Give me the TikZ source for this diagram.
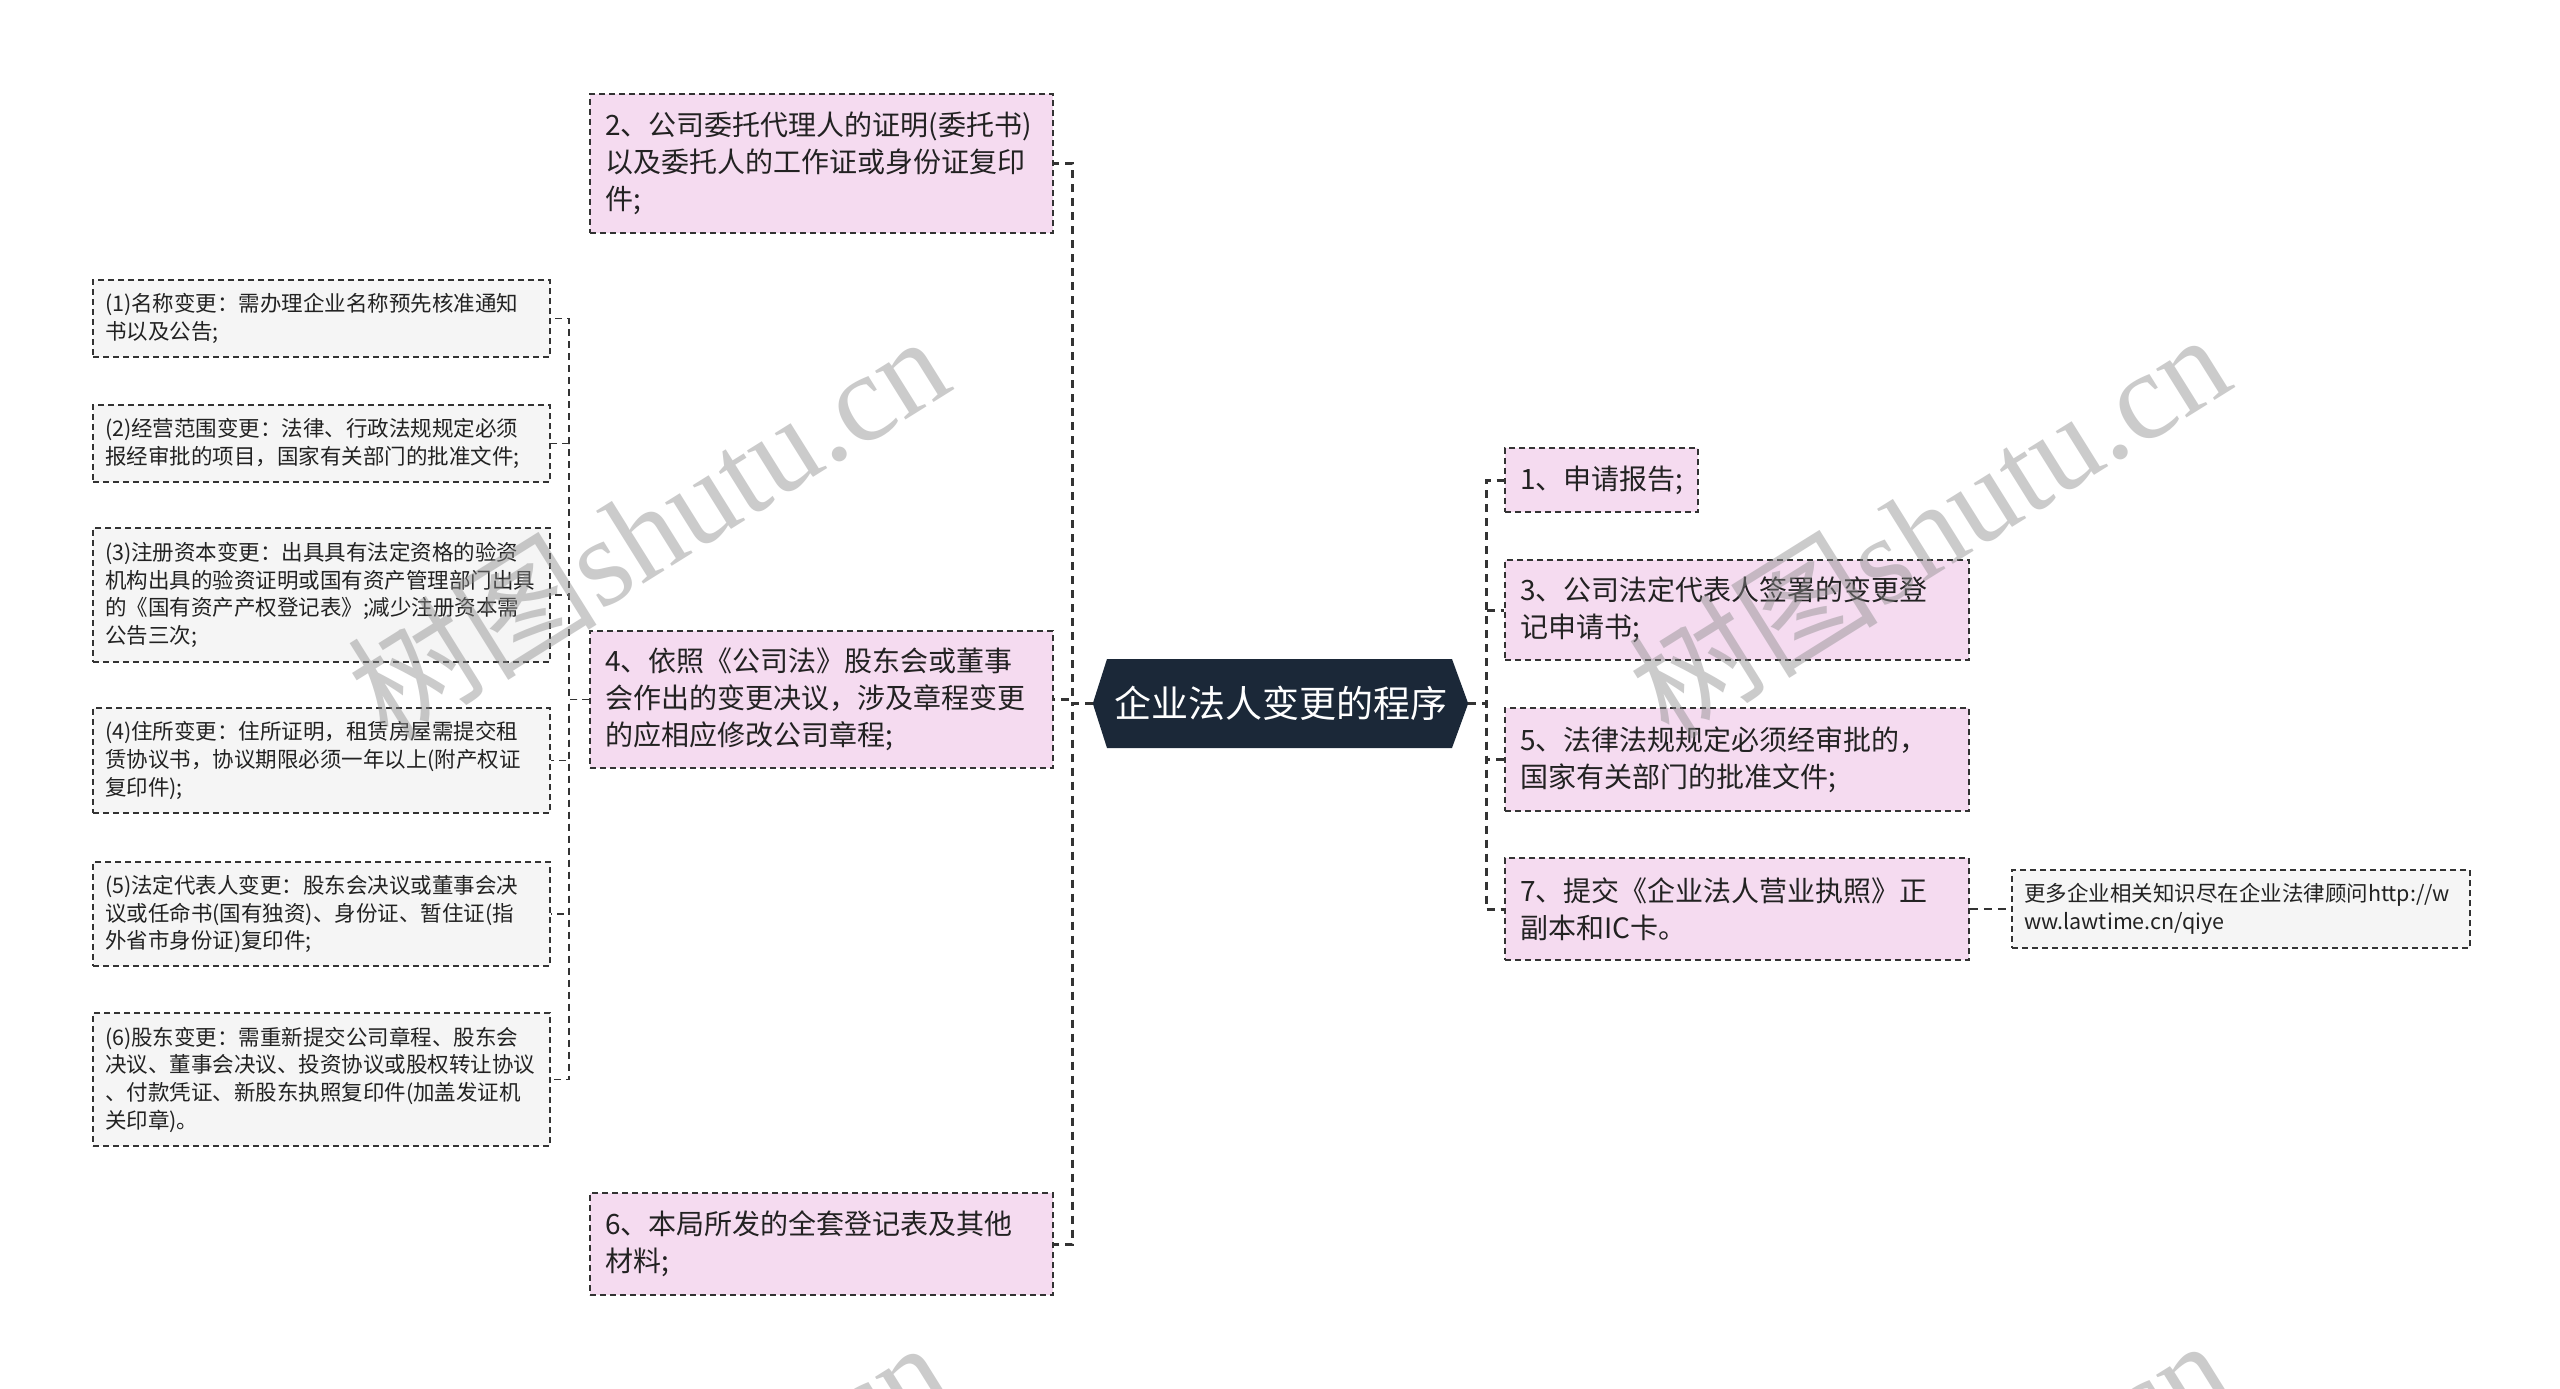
\documentclass[tikz,border=0pt]{standalone}
\usepackage{fontspec}
\setmainfont{Noto Sans CJK SC}
\newfontfamily\wmcjk{Noto Sans CJK SC}
\newfontfamily\wmserif{Liberation Serif}
\usetikzlibrary{calc,backgrounds}
\definecolor{pinkfill}{RGB}{245,219,240}
\definecolor{grayfill}{RGB}{245,245,245}
\definecolor{navy}{RGB}{27,40,56}
\definecolor{bordc}{RGB}{51,51,51}
\definecolor{txt}{RGB}{34,34,34}
\definecolor{wmgray}{RGB}{140,140,140}
\begin{document}
\begin{tikzpicture}[x=1pt,y=-1pt,
  pinkbox/.style={draw=bordc, line width=1.6pt, dash pattern=on 6pt off 4pt, fill=pinkfill, inner xsep=15pt, inner ysep=0pt, align=left, font=\fontsize{28}{36.7}\selectfont, text=txt},
  graybox/.style={draw=bordc, line width=1.4pt, dash pattern=on 6pt off 4pt, fill=grayfill, inner xsep=12pt, inner ysep=0pt, align=left, font=\fontsize{21.5}{27.7}\selectfont, text=txt},
  mainline/.style={draw=bordc, line width=3pt, dash pattern=on 8pt off 6pt},
  subline/.style={draw=bordc, line width=1.5pt, dash pattern=on 7pt off 5pt},
  linkline/.style={draw=bordc, line width=2.5pt, dash pattern=on 8pt off 6pt},
  wm/.style={text=wmgray, opacity=0.45, rotate=32, inner sep=0pt, font=\fontsize{125}{130}\selectfont}
]
\useasboundingbox (0,0) rectangle (2560,1389);
\begin{scope}[on background layer]
\fill[white] (0,0) rectangle (2560,1389);
\end{scope}

% central topic
\node[text=white, font=\fontsize{37}{44}\selectfont, minimum width=375pt, minimum height=89pt, inner sep=0pt] (c) at (1280.5,703.5) {企业法人变更的程序};
\begin{scope}[on background layer]
\fill[navy] (c.west) -- ($(c.center)+(-173.5,-44.5)$) -- ($(c.center)+(171.5,-44.5)$) -- (c.east) -- ($(c.center)+(171.5,44.5)$) -- ($(c.center)+(-173.5,44.5)$) -- cycle;
\end{scope}

% left main branches
\node[pinkbox, text width=433pt, minimum height=139pt] (n2) at (821.5,163.5) {2、公司委托代理人的证明(委托书)\\以及委托人的工作证或身份证复印\\件;};
\node[pinkbox, text width=433pt, minimum height=137pt] (n4) at (821.5,699.5) {4、依照《公司法》股东会或董事\\会作出的变更决议，涉及章程变更\\的应相应修改公司章程;};
\node[pinkbox, text width=433pt, minimum height=102pt] (n6) at (821.5,1244) {6、本局所发的全套登记表及其他\\材料;};

% sub branches of 4
\node[graybox, text width=433pt, minimum height=77pt] (s1) at (321.5,318.5) {(1)名称变更：需办理企业名称预先核准通知\\书以及公告;};
\node[graybox, text width=433pt, minimum height=77pt] (s2) at (321.5,443.5) {(2)经营范围变更：法律、行政法规规定必须\\报经审批的项目，国家有关部门的批准文件;};
\node[graybox, text width=433pt, minimum height=134pt] (s3) at (321.5,595) {(3)注册资本变更：出具具有法定资格的验资\\机构出具的验资证明或国有资产管理部门出具\\的《国有资产产权登记表》;减少注册资本需\\公告三次;};
\node[graybox, text width=433pt, minimum height=105pt] (s4) at (321.5,760.5) {(4)住所变更：住所证明，租赁房屋需提交租\\赁协议书，协议期限必须一年以上(附产权证\\复印件);};
\node[graybox, text width=433pt, minimum height=104pt] (s5) at (321.5,914) {(5)法定代表人变更：股东会决议或董事会决\\议或任命书(国有独资)、身份证、暂住证(指\\外省市身份证)复印件;};
\node[graybox, text width=433pt, minimum height=133pt] (s6) at (321.5,1079.5) {(6)股东变更：需重新提交公司章程、股东会\\决议、董事会决议、投资协议或股权转让协议\\、付款凭证、新股东执照复印件(加盖发证机\\关印章)。};

% right branches
\node[pinkbox, text width=163pt, minimum height=64pt] (r1) at (1601.5,480) {1、申请报告;};
\node[pinkbox, text width=434pt, minimum height=100pt] (r3) at (1737,610) {3、公司法定代表人签署的变更登\\记申请书;};
\node[pinkbox, text width=434pt, minimum height=103pt] (r5) at (1737,759.5) {5、法律法规规定必须经审批的，\\国家有关部门的批准文件;};
\node[pinkbox, text width=434pt, minimum height=102pt] (r7) at (1737,909) {7、提交《企业法人营业执照》正\\副本和IC卡。};
\node[graybox, text width=434pt, minimum height=78pt] (lk) at (2241,909) {更多企业相关知识尽在企业法律顾问http://w\\ww.lawtime.cn/qiye};

% connectors
\draw[mainline] (c.west) -- ++(-20,0) |- (n2.east);
\draw[mainline] (c.west) -- ++(-20,0) |- (n4.east);
\draw[mainline] (c.west) -- ++(-20,0) |- (n6.east);
\draw[mainline] (c.east) -- ++(18,0) |- (r1.west);
\draw[mainline] (c.east) -- ++(18,0) |- (r3.west);
\draw[mainline] (c.east) -- ++(18,0) |- (r5.west);
\draw[mainline] (c.east) -- ++(18,0) |- (r7.west);
\draw[linkline] (r7.east) -- (lk.west);
\foreach \s in {s1,s2,s3,s4,s5,s6}{
  \draw[subline] (n4.west) -- ++(-20,0) |- (\s.east);
}

% watermarks
\begin{scope}
\clip (0,0) rectangle (2560,1389);
\node[wm] (w1) at (647,526) {{\wmcjk 树图}{\wmserif shutu.cn}};
\node[wm] (w2) at (1928,524) {{\wmcjk 树图}{\wmserif shutu.cn}};
\node[wm] (w3) at (647,1532) {{\wmcjk 树图}{\wmserif shutu.cn}};
\node[wm] (w4) at (1928,1530) {{\wmcjk 树图}{\wmserif shutu.cn}};
\end{scope}
\end{tikzpicture}
\end{document}
